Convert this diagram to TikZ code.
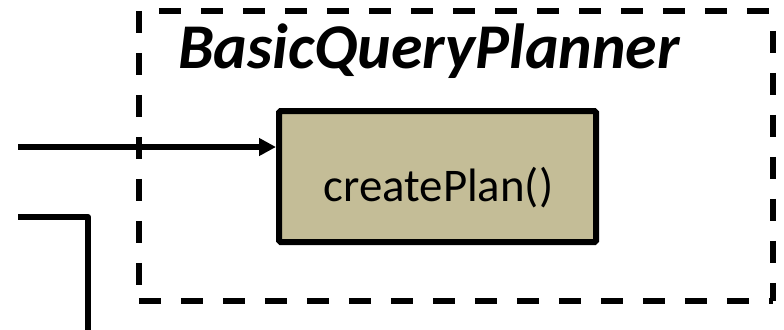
\documentclass[tikz,border=0pt]{standalone}
\usepackage{fontspec}
\setmainfont{Carlito}
\usetikzlibrary{arrows.meta}
\definecolor{tanfill}{HTML}{C4BD97}
\tikzset{
  framebox/.style={draw=none, rectangle, inner sep=0pt},
  frameside/.style={draw=black, line width=5.5bp, dash pattern=on 22bp off 20bp},
  methodbox/.style={draw=black, fill=tanfill, line width=6bp, rectangle, inner sep=0pt, rounded corners=1.5bp},
  conn/.style={draw=black, line width=6bp, line join=round},
  arr/.style={-{Triangle[length=17bp,width=17bp]}}
}
\begin{document}
\begin{tikzpicture}[x=1bp,y=-1bp]
\useasboundingbox (0,0) rectangle (784,329);
\node[framebox, minimum width=634bp, minimum height=290bp] (frame) at (456,156) {};
\draw[frameside, dash phase=0bp] (frame.north west) -- (frame.south west);
\draw[frameside, dash phase=22bp] (frame.north west) -- (frame.north east);
\draw[frameside, dash phase=22bp] (frame.north east) -- (frame.south east);
\draw[frameside, dash phase=0bp] (frame.south west) -- (frame.south east);
\node[anchor=base west, inner sep=0pt, font=\fontsize{64}{70}\selectfont\bfseries\itshape] (title) at (178,68) {BasicQueryPlanner};
\node[methodbox, minimum width=317bp, minimum height=131bp] (box) at (437.5,176.5) {};
\node[anchor=base, inner sep=0pt, font=\fontsize{47}{52}\selectfont] (label) at (438.5,201) {createPlan()};
\coordinate (in1) at (18,147);
\coordinate (in2) at (18,217);
\coordinate (down) at (88,335);
\draw[conn, arr] (in1) -- (in1 -| box.west);
\draw[conn] (in2) -| (down);
\end{tikzpicture}
\end{document}
